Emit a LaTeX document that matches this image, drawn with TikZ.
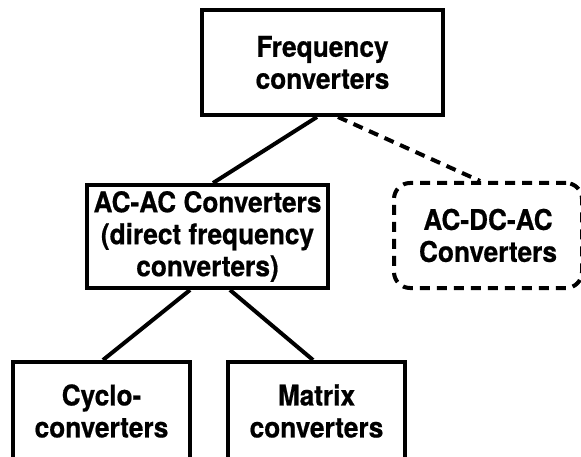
\documentclass[tikz,border=0pt]{standalone}
\usepackage{fontspec}
\setmainfont{TeX Gyre Heros}[FakeStretch=0.92,BoldFeatures={FakeBold=0.6}]
\begin{document}
\begin{tikzpicture}[x=1pt,y=-1pt,line width=4pt,
        box/.style={draw,align=center,inner sep=0pt,
          font=\fontsize{28.5}{32}\selectfont\bfseries},
        dashline/.style={dash pattern=on 10pt off 7pt}]
        \useasboundingbox (0,0) rectangle (581,457);
        % top level
        \node[box,minimum width=241pt,minimum height=105pt] (freq) at (322.5,62.5) {Frequency\\converters};
        % second level
        \node[box,minimum width=241pt,minimum height=103pt] (acac) at (207.5,236.5) {AC-AC Converters\\(direct frequency\\converters)};
        \node[box,dashline,rounded corners=16pt,minimum width=188pt,minimum height=105pt] (acdcac) at (488,235.5) {AC-DC-AC\\Converters};
        % bottom level, cut by the page edge
        \node[box,minimum width=177pt,minimum height=98pt] (cyclo) at (101.5,411) {Cyclo-\\converters};
        \node[box,minimum width=177pt,minimum height=98pt] (matrix) at (316.5,411) {Matrix\\converters};
        % links
        \draw ([xshift=-5.5pt]freq.south) -- ([xshift=5.5pt]acac.north);
        \draw[dashline] ([xshift=15.5pt]freq.south) -- ([xshift=-8pt]acdcac.north);
        \draw ([xshift=-17.5pt]acac.south) -- ([xshift=1.5pt]cyclo.north);
        \draw ([xshift=22.5pt]acac.south) -- ([xshift=-3.5pt]matrix.north);
\end{tikzpicture}
\end{document}
